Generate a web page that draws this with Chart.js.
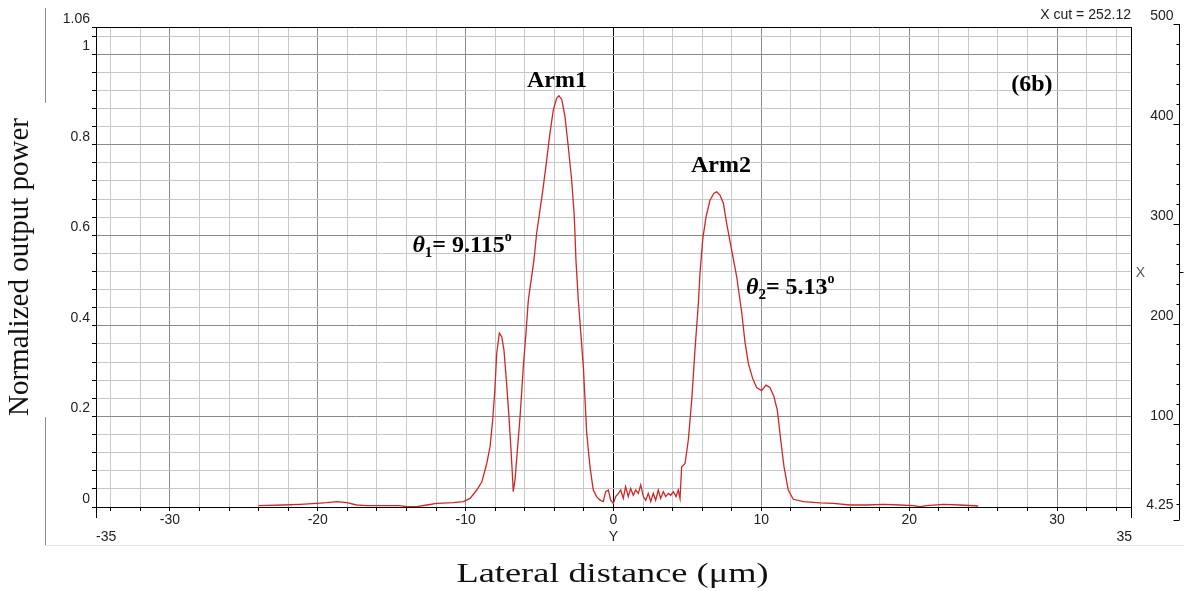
<!DOCTYPE html>
<html>
<head>
<meta charset="utf-8">
<script src="https://cdn.jsdelivr.net/npm/chart.js@4.4.1/dist/chart.umd.min.js"></script>
<style>
  html, body { margin: 0; padding: 0; background: #fff; }
  canvas { display: block; }
</style>
</head>
<body>
<canvas id="cut" width="1184" height="591"></canvas>
<script>
const lateralX = [
  -24.02, -22.33, -21.2, -20.07, -19.4, -18.72, -18.04, -17.37, -16.69, -15.57,
  -14.44, -13.99, -13.31, -12.63, -11.96, -10.83, -10.16, -9.7, -9.25, -8.91,
  -8.58, -8.35, -8.17, -8.01, -7.9, -7.72, -7.56, -7.41, -7.23, -7.07,
  -6.93, -6.82, -6.78, -6.66, -6.5, -6.32, -6.1, -5.92, -5.76, -5.38,
  -5.2, -4.97, -4.75, -4.52, -4.3, -4.07, -3.84, -3.69, -3.5, -3.28,
  -3.06, -2.83, -2.65, -2.54, -2.38, -2.04, -1.81, -1.59, -1.37, -1.14,
  -0.91, -0.69, -0.53, -0.35, -0.19, -0.01, 0.15, 0.33, 0.49, 0.66,
  0.82, 1.0, 1.16, 1.34, 1.5, 1.68, 1.84, 2.02, 2.18, 2.35,
  2.52, 2.69, 2.85, 3.03, 3.19, 3.37, 3.53, 3.71, 3.87, 4.05,
  4.23, 4.38, 4.5, 4.61, 4.84, 5.06, 5.29, 5.51, 5.74, 5.85,
  6.03, 6.26, 6.53, 6.8, 6.98, 7.2, 7.43, 7.65, 7.99, 8.33,
  8.67, 8.89, 9.12, 9.41, 9.68, 10.02, 10.31, 10.58, 10.85, 11.08,
  11.31, 11.53, 11.82, 12.16, 12.84, 13.97, 14.87, 16.0, 17.12, 18.25,
  19.38, 20.28, 20.73, 21.18, 22.3, 23.43, 24.67
];
const powerY = [
  0.003, 0.0044, 0.006, 0.008, 0.0095, 0.012, 0.0095, 0.0044, 0.003, 0.003,
  0.003, 0.0007, 0.0007, 0.0044, 0.008, 0.0095, 0.012, 0.019, 0.0375, 0.055,
  0.095, 0.133, 0.192, 0.266, 0.339, 0.384, 0.376, 0.347, 0.273, 0.199,
  0.126, 0.06, 0.034, 0.06, 0.126, 0.199, 0.31, 0.384, 0.457, 0.545,
  0.604, 0.656, 0.707, 0.766, 0.825, 0.877, 0.903, 0.908, 0.9, 0.862,
  0.796, 0.722, 0.641, 0.545, 0.457, 0.31, 0.163, 0.089, 0.0375, 0.023,
  0.015, 0.012, 0.034, 0.0375, 0.015, 0.008, 0.023, 0.03, 0.0375, 0.019,
  0.045, 0.023, 0.041, 0.026, 0.0375, 0.03, 0.049, 0.023, 0.015, 0.03,
  0.012, 0.03, 0.015, 0.0375, 0.019, 0.034, 0.023, 0.03, 0.026, 0.034,
  0.023, 0.0375, 0.019, 0.089, 0.096, 0.148, 0.236, 0.347, 0.45, 0.516,
  0.59, 0.641, 0.678, 0.693, 0.696, 0.689, 0.671, 0.627, 0.568, 0.509,
  0.43, 0.365, 0.317, 0.284, 0.264, 0.257, 0.269, 0.264, 0.244, 0.214,
  0.148, 0.089, 0.0375, 0.017, 0.012, 0.009, 0.008, 0.0044, 0.0044, 0.006,
  0.0044, 0.003, 0.0007, 0.003, 0.006, 0.0044, 0.0022
];

// axes
const xTickValues = [-35, -34, -32, -30, -28, -26, -24, -22, -20, -18, -16, -14, -12, -10, -8, -6, -4, -2,
  0, 2, 4, 6, 8, 10, 12, 14, 16, 18, 20, 22, 24, 26, 28, 30, 32, 34, 35];
const xLabelValues = [-30, -20, -10, 0, 10, 20, 30];
const yTickValues = [0, 0.04, 0.08, 0.12, 0.16, 0.2, 0.24, 0.28, 0.32, 0.36, 0.4, 0.44, 0.48, 0.52,
  0.56, 0.6, 0.64, 0.68, 0.72, 0.76, 0.8, 0.84, 0.88, 0.92, 0.96, 1, 1.04, 1.06];
const yLabelValues = [0, 0.2, 0.4, 0.6, 0.8, 1, 1.06];
// right hand colour bar axis of the original plot
const rightTickValues = [500, 400, 300, 200, 100, 4.25];
const xCut = 252.12;

const SANS = '"Liberation Sans Narrow", "Liberation Sans", sans-serif';
const SERIF = '"Liberation Serif", "Times New Roman", serif';
const tickFont = { family: SANS, size: 14 };
const MINOR = '#c8c8c8';
const MAJOR = '#8a8a8a';

const near = (a, b) => Math.abs(a - b) < 1e-9;

function drawAngle(c, px, py, sub, text) {
  let cx = px;
  const seg = (str, font, dy) => {
    c.font = font;
    c.fillText(str, cx, py + dy);
    cx += c.measureText(str).width;
  };
  seg('\u03b8', 'italic bold 24px ' + SERIF, 0);
  seg(sub, 'bold 15px ' + SERIF, 5);
  seg('= ' + text, 'bold 24px ' + SERIF, 0);
  seg('o', 'bold 14px ' + SERIF, -11);
}

const refDecor = {
  id: 'refDecor',
  beforeDraw(chart) {
    const c = chart.ctx;
    c.save();
    c.fillStyle = '#fff';
    c.fillRect(0, 0, chart.width, chart.height);
    // frame of the original screenshot
    c.strokeStyle = '#8a8a8a';
    c.lineWidth = 1;
    c.beginPath();
    c.moveTo(45.5, 8); c.lineTo(45.5, 103);
    c.moveTo(45.5, 417); c.lineTo(45.5, 545);
    c.stroke();
    c.strokeStyle = '#e2e2e2';
    c.beginPath();
    c.moveTo(45, 545.5); c.lineTo(chart.width, 545.5);
    c.stroke();
    c.restore();
  },
  afterDraw(chart) {
    const { ctx: c, chartArea: area } = chart;
    const { x, y, y2 } = chart.scales;
    c.save();
    c.strokeStyle = '#000';
    c.lineWidth = 1;

    // long end ticks of the lateral axis
    c.beginPath();
    [x.min, x.max].forEach(v => {
      const px = Math.round(x.getPixelForValue(v) - 0.5) + 0.5;
      c.moveTo(px, area.bottom);
      c.lineTo(px, area.bottom + 11);
    });
    c.stroke();

    c.fillStyle = '#222';
    c.font = tickFont.size + 'px ' + SANS;
    c.textBaseline = 'middle';
    c.textAlign = 'left';
    c.fillText('-35', x.getPixelForValue(x.min), area.bottom + 30);
    c.textAlign = 'right';
    c.fillText('35', x.getPixelForValue(x.max) + 1, area.bottom + 30);
    c.fillText('X cut = ' + xCut, area.right, 15);

    // right axis
    const ax = y2.right - 4.5;
    c.beginPath();
    c.moveTo(ax, y2.getPixelForValue(500));
    c.lineTo(ax, y2.getPixelForValue(4.25));
    rightTickValues.forEach(v => {
      const py = Math.round(y2.getPixelForValue(v)) + 0.5;
      c.moveTo(ax - 6, py); c.lineTo(ax, py);
    });
    for (let v = 480; v > 4.25; v -= 20) {
      if (v % 100 === 0) continue;
      const py = Math.round(y2.getPixelForValue(v)) + 0.5;
      c.moveTo(ax - 3, py); c.lineTo(ax, py);
    }
    const cutY = Math.round(y2.getPixelForValue(xCut)) + 0.5;
    c.moveTo(ax, cutY); c.lineTo(ax + 4, cutY);
    c.stroke();
    rightTickValues.forEach((v, i) => {
      const off = i === rightTickValues.length - 1 ? -15 : -8;
      c.fillText(String(v), ax - 6, y2.getPixelForValue(v) + off);
    });
    c.fillStyle = '#555';
    c.textAlign = 'center';
    c.fillText('X', ax - 39, cutY + 1);

    // lateral axis title, a little wider than plain Times like the original
    c.fillStyle = '#111';
    c.font = '28px ' + SERIF;
    c.textBaseline = 'middle';
    const title = 'Lateral distance (\u03bcm)';
    const sx = 312 / c.measureText(title).width;
    c.save();
    c.translate((area.left + area.right) / 2 - 1, 575);
    c.scale(sx, 1);
    c.fillText(title, 0, 0);
    c.restore();

    // annotations
    c.fillStyle = '#000';
    c.textBaseline = 'alphabetic';
    c.font = 'bold 24px ' + SERIF;
    c.textAlign = 'center';
    c.fillText('Arm1', x.getPixelForValue(-3.82), y.getPixelForValue(0.928));
    c.fillText('Arm2', x.getPixelForValue(7.27), y.getPixelForValue(0.74));
    c.fillText('(6b)', x.getPixelForValue(28.3), y.getPixelForValue(0.918));
    c.textAlign = 'left';
    drawAngle(c, x.getPixelForValue(-13.6), y.getPixelForValue(0.563), '1', '9.115');
    drawAngle(c, x.getPixelForValue(8.96), y.getPixelForValue(0.47), '2', '5.13');
    c.restore();
  }
};

new Chart(document.getElementById('cut'), {
  type: 'line',
  data: {
    datasets: [{
      data: lateralX.map((v, i) => ({ x: v, y: powerY[i] })),
      borderColor: '#cf2727',
      borderWidth: 1.3,
      pointRadius: 0,
      tension: 0,
      fill: false
    }]
  },
  options: {
    responsive: false,
    animation: false,
    devicePixelRatio: 1,
    events: [],
    layout: { padding: { top: 27, left: 0, right: 0, bottom: 0 } },
    plugins: { legend: { display: false }, tooltip: { enabled: false } },
    scales: {
      x: {
        type: 'linear',
        min: -35,
        max: 35,
        afterBuildTicks: s => { s.ticks = xTickValues.map(v => ({ value: v })); },
        afterFit: s => { s.height = 84; },
        grid: {
          color: ctx => {
            const v = ctx.tick ? ctx.tick.value : NaN;
            if (v === 0 || v === -35 || v === 35) return '#000';
            return v % 10 === 0 ? MAJOR : MINOR;
          },
          tickColor: '#000',
          tickLength: 4
        },
        border: { color: '#000' },
        ticks: {
          autoSkip: false,
          maxRotation: 0,
          padding: 1,
          color: '#222',
          font: tickFont,
          callback: v => v === 0 ? ['0', 'Y'] : (xLabelValues.includes(v) ? String(v) : '')
        }
      },
      y: {
        type: 'linear',
        min: 0,
        max: 1.06,
        afterBuildTicks: s => { s.ticks = yTickValues.map(v => ({ value: v })); },
        afterFit: s => { s.width = 96; },
        grid: {
          color: ctx => {
            const v = ctx.tick ? ctx.tick.value : NaN;
            if (near(v, 1.06) || v === 0) return '#000';
            return near(v * 5, Math.round(v * 5)) ? MAJOR : MINOR;
          },
          tickColor: '#000',
          tickLength: 4
        },
        border: { color: '#000' },
        ticks: {
          autoSkip: false,
          padding: 2,
          labelOffset: -8,
          color: '#222',
          font: tickFont,
          callback: v => yLabelValues.some(l => near(l, v)) ? String(v) : ''
        },
        title: {
          display: true,
          text: 'Normalized output power',
          color: '#111',
          font: { family: SERIF, size: 29 },
          padding: { top: 3, bottom: 0 }
        }
      },
      y2: {
        type: 'linear',
        position: 'right',
        min: 17,
        max: 497,
        afterFit: s => { s.width = 53; },
        grid: { display: false },
        border: { display: false },
        ticks: { display: false }
      }
    }
  },
  plugins: [refDecor]
});
</script>
</body>
</html>
